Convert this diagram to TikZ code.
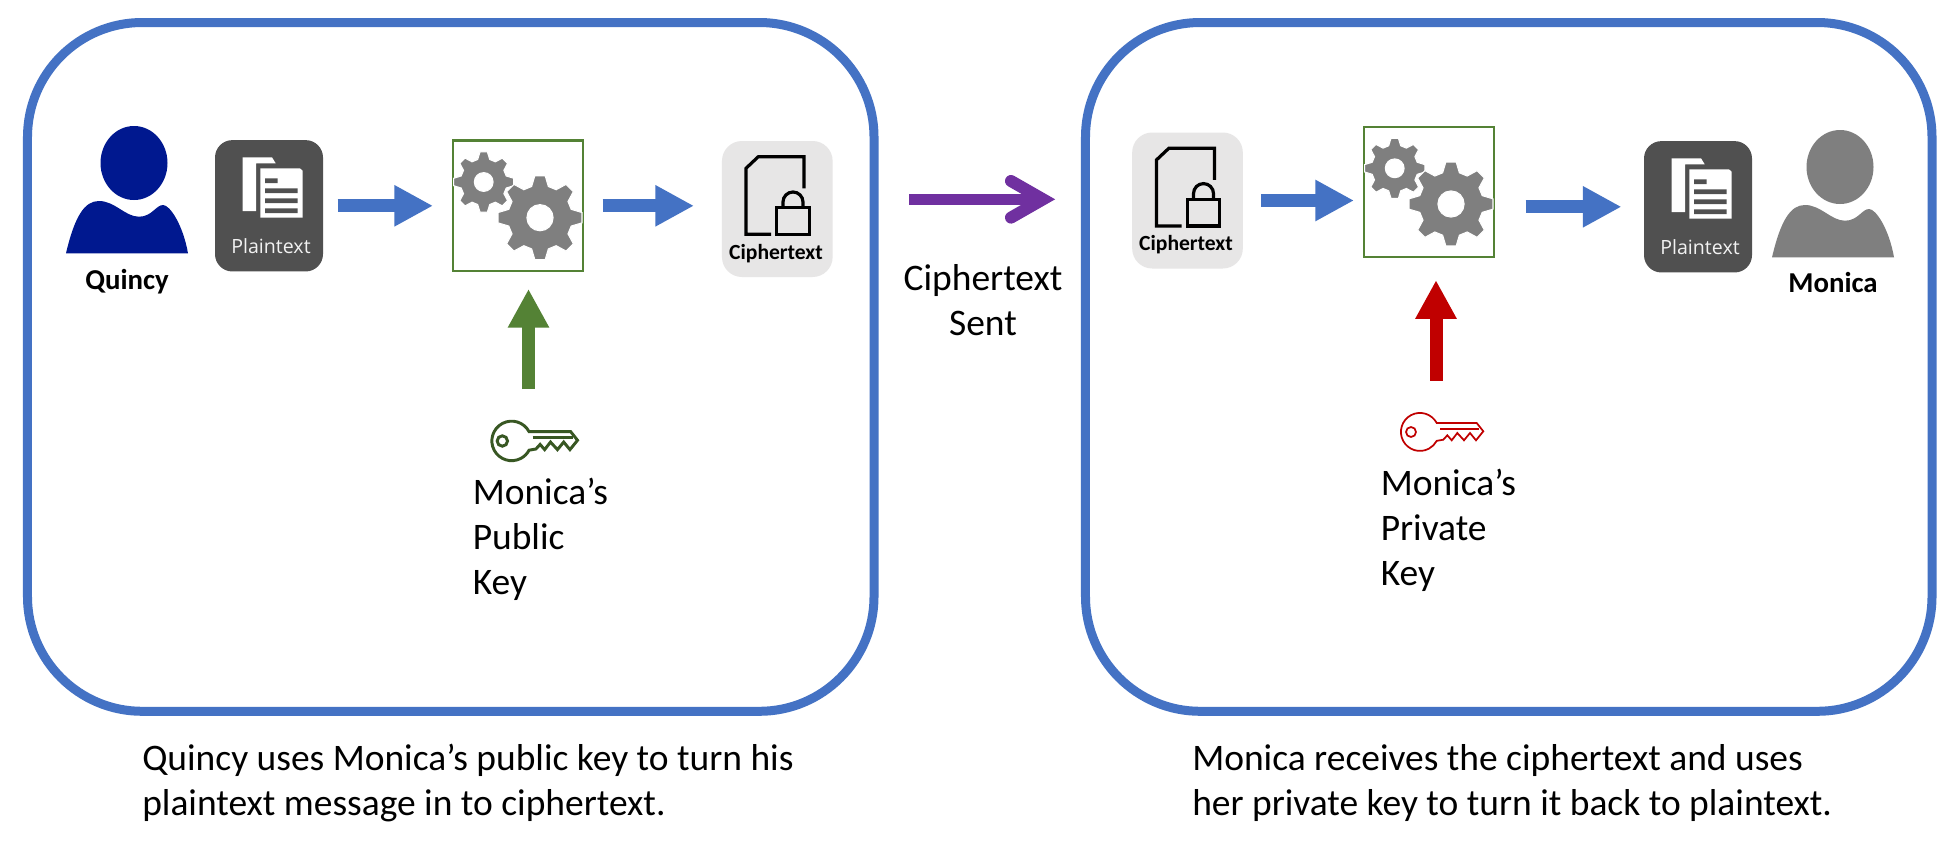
\documentclass[tikz,border=0pt]{standalone}
\usepackage{fontspec}
\setmainfont{Carlito}
\newfontfamily\iconfont{Open Sans}
\usetikzlibrary{arrows.meta,calc}
\definecolor{boxblue}{HTML}{4472C4}
\definecolor{quincyblue}{HTML}{00188F}
\definecolor{gearframe}{HTML}{548235}
\definecolor{keygreen}{HTML}{385723}
\definecolor{keyred}{HTML}{C00000}
\definecolor{sentpurple}{HTML}{7030A0}
\definecolor{darkbox}{HTML}{505050}
\definecolor{lightbox}{HTML}{E7E6E6}
\definecolor{geargrey}{HTML}{7F7F7F}
\tikzset{
  panel/.style={draw=boxblue,line width=6.75pt,fill=white,rounded corners=86pt,inner sep=0pt,minimum width=634.9pt,minimum height=516.6pt},
  plainbox/.style={fill=darkbox,rounded corners=13pt,inner sep=0pt,outer sep=0pt,minimum width=81pt,minimum height=98.5pt},
  cipherbox/.style={fill=lightbox,rounded corners=15pt,inner sep=0pt,outer sep=0pt,minimum width=83pt,minimum height=102pt},
  gearbox/.style={draw=gearframe,line width=1.8pt,inner sep=0pt,outer sep=0pt,minimum width=97.5pt,minimum height=97.7pt},
  blockarrow/.style={line width=9.75pt,-{Triangle[length=29pt,width=29pt]},draw=#1,color=#1},
  bigtext/.style={inner sep=0pt,font=\fontsize{28.1pt}{33.75pt}\selectfont,align=left,text=black},
  nametext/.style={inner sep=0pt,anchor=base,font=\fontsize{21.6pt}{26pt}\selectfont\bfseries,text=black},
  plainlabel/.style={inner sep=0pt,anchor=base,font=\iconfont\fontsize{14.7pt}{18pt}\selectfont,text=white!95!black},
  cipherlabel/.style={inner sep=0pt,anchor=base,font=\fontsize{16.2pt}{19pt}\selectfont\bfseries,text=black},
  keyspot/.style={inner sep=0pt,minimum width=62pt,minimum height=30pt},
}
% one eight-toothed gear: centre x, centre y, outer r, root r, hole r
\newcommand{\onegear}[5]{\begin{scope}[shift={(#1,#2)}]
  \filldraw[fill=geargrey,draw=white,line width=0.8pt,even odd rule]
    (-15:#4) \foreach \a in {0,45,...,315}{
      -- (\a-15:#4) -- (\a-7:#3) -- (\a+7:#3) -- (\a+15:#4)
    } -- cycle (0,0) circle[radius=#5];
\end{scope}}
\newcommand{\gearpair}[2]{\begin{scope}[shift={(#1,#2)}]
  \onegear{483.7}{182}{30.3}{23.3}{9.4}
  \onegear{540}{217.7}{42.3}{32.3}{13.1}
\end{scope}}
\newcommand{\personshape}[3]{\begin{scope}[shift={(#1,#2)}]
  \fill[#3] (134,163) ellipse[x radius=33.5,y radius=37];
  \fill[#3] (66,253.3) .. controls (75,215) and (85,201) .. (99,201)
    .. controls (115,201) and (125,216.7) .. (139,216.7)
    .. controls (152,216.7) and (156,205) .. (163,205)
    .. controls (170,205) and (183,225) .. (188,253.3) -- cycle;
\end{scope}}
\newcommand{\plainicon}[2]{\begin{scope}[shift={(#1,#2)}]
  \fill[white] (242.5,157.3) -- (272,157.3) -- (275.7,163.3) -- (256,163.3) -- (256,211) -- (242.5,211) -- cycle;
  \fill[white] (260.4,168.3) -- (300,168.3) -- (302.5,170.7) -- (302.5,217.7) -- (260.4,217.7) -- cycle;
  \fill[darkbox] (265,178.3) rectangle (277.5,183) (265,188.3) rectangle (297.5,193)
    (265,198.3) rectangle (297.5,203) (265,208.3) rectangle (297.5,213);
\end{scope}}
\newcommand{\ciphericon}[2]{\begin{scope}[shift={(#1,#2)}]
  \draw[black,line width=2.4pt] (771,234.3) -- (746,234.3) -- (746,168.3) -- (758.3,156.7) -- (804,156.7) -- (804,188.3);
  \draw[black,line width=2.4pt] (776.7,207.7) rectangle (809.3,234.3);
  \draw[black,line width=2.4pt] (783,207.7) -- (783,202) arc[start angle=-180,end angle=0,radius=10] -- (803,207.7);
\end{scope}}
\newcommand{\keyshape}[5]{\begin{scope}[shift={(#1,#2)},scale=#5]
  \draw[#3,line width=#4,line join=miter]
    (16.7,-9) arc[start angle=-28,end angle=-332,radius=19]
    -- (23.3,7.7) -- (27.3,3.3) -- (31.7,8.3) -- (37.3,1) -- (44,8.3) -- (50,1) -- (56,8.3) -- (63.3,-0.7) -- (56.7,-9) -- cycle;
  \draw[#3,line width=#4] (20,-3.3) -- (59,-3.3);
  \draw[#3,line width=#4] (-9,0) circle[radius=5];
\end{scope}}
\begin{document}
\begin{tikzpicture}[x=0.75pt,y=-0.75pt]
\useasboundingbox (0,0) rectangle (1957,853);
\fill[white] (0,0) rectangle (1957,853);
% panels
\node[panel] (leftpanel) at (450.75,366.9) {};
\node[panel] (rightpanel) at (1508.75,366.9) {};
% left panel
\personshape{0}{0}{quincyblue}
\node[nametext] (quincy) at (127,289) {Quincy};
\node[plainbox] (plainA) at (269,205.8) {};
\plainicon{0}{0}
\node[plainlabel] (plainAtext) at (271,253) {Plaintext};
\node[gearbox] (gearA) at (518,205.8) {};
\gearpair{0}{0}
\node[cipherbox] (cipherA) at (777.3,209) {};
\ciphericon{0}{0}
\node[cipherlabel] (cipherAtext) at (776,259) {Ciphertext};
\node[keyspot] (pubkey) at (541,441) {};
\keyshape{511.7}{441}{keygreen}{2.2pt}{1.04}
\node[bigtext,anchor=base west] (pubtext) at (472.5,594) {Monica’s\\Public\\Key};
\coordinate (pubfoot) at (528.5,389);
\draw[blockarrow=boxblue,shorten <=10.9pt,shorten >=15pt] (plainA) -- (gearA);
\draw[blockarrow=boxblue,shorten <=14.8pt,shorten >=21pt] (gearA.east) -- (gearA.east -| cipherA.west);
\draw[blockarrow=gearframe,shorten >=13.5pt] (pubfoot) -- (pubfoot |- gearA.south);
% between the panels
\coordinate (sentstart) at (909,199.3);
\coordinate (sentend) at (1043,199.3);
\draw[sentpurple,line width=8.25pt] (sentstart) -- (sentend);
\draw[sentpurple,line width=9pt,line cap=round,line join=miter,miter limit=10] (1011,181) -- (sentend) -- (1011,217.6);
\node[bigtext,align=center,anchor=base] (senttext) at (983,335) {Ciphertext\\Sent};
% right panel
\node[cipherbox] (cipherB) at (1187.5,200.5) {};
\ciphericon{410.5}{-8.4}
\node[cipherlabel] (cipherBtext) at (1186,250) {Ciphertext};
\node[gearbox] (gearB) at (1429,192) {};
\gearpair{911}{-13.7}
\node[plainbox] (plainB) at (1698,206.8) {};
\plainicon{1429}{1}
\node[plainlabel] (plainBtext) at (1700,254) {Plaintext};
\personshape{1706}{4}{geargrey}
\node[nametext] (monica) at (1833,292.7) {Monica};
\node[keyspot] (privkey) at (1450,432) {};
\keyshape{1420}{432}{keyred}{1.3pt}{1}
\node[bigtext,anchor=base west] (privtext) at (1380.5,585) {Monica’s\\Private\\Key};
\coordinate (privfoot) at (1436,380.7);
\draw[blockarrow=boxblue,shorten <=13.5pt,shorten >=7.5pt] (cipherB.east) -- (cipherB.east -| gearB.west);
\draw[blockarrow=boxblue,shorten <=23.7pt,shorten >=16.9pt] (plainB.west -| gearB.east) -- (plainB.west);
\draw[blockarrow=keyred,shorten >=17.25pt] (privfoot) -- (privfoot |- gearB.south);
% captions
\node[bigtext,anchor=base west] (captionA) at (142,815) {Quincy uses Monica’s public key to turn his\\plaintext message in to ciphertext.};
\node[bigtext,anchor=base west] (captionB) at (1192,815) {Monica receives the ciphertext and uses\\her private key to turn it back to plaintext.};
\end{tikzpicture}
\end{document}
